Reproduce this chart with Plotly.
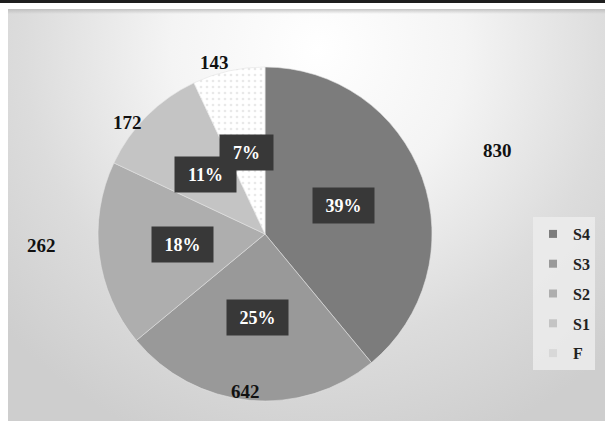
import math, base64
import plotly.graph_objects as go

# ---- data ----
labels = ["S4", "S3", "S2", "S1", "F"]
percents = [39, 25, 18, 11, 7]
counts = [830, 642, 262, 172, 143]

# ---- styles ----
colors = ["#7c7c7c", "#999999", "#aeaeae", "#c4c4c4", "#d8d8d8"]
count_radius = [1.48, 0.95, 1.34, 1.06, 1.07]   # label distance (x pie radius)
count_nudge = [0, 1.5, 4.3, -5.8, -3.7]          # label angle nudge (deg)
W, H = 605, 421
CX, CY, R = 265, 234, 167                          # pie centre / radius in px
SERIF = "Liberation Serif, Times New Roman, serif"

def px(x):
    return x / W

def py(y):
    return 1 - y / H

fig = go.Figure()
fig.add_trace(go.Pie(
    labels=labels, values=percents, sort=False, direction="clockwise", rotation=0,
    textinfo="none", hoverinfo="label+percent", showlegend=False,
    marker=dict(colors=colors, line=dict(color="#e2e2e2", width=0.6),
                pattern=dict(shape=["", "", "", "", "."], fgcolor="#e9e9e9",
                             size=6, solidity=0.15)),
    domain=dict(x=[px(CX - R), px(CX + R)], y=[py(CY + R), py(CY - R)]),
))

# legend entries (one group per category so they can be spaced like the original)
for lab, col in zip(labels, colors):
    fig.add_trace(go.Scatter(
        x=[None], y=[None], mode="markers", name=lab, legendgroup=lab,
        marker=dict(symbol="square", size=8, color=col), showlegend=True,
        hoverinfo="skip"))

annotations = []
total = sum(percents)
cum = 0
for lab, p, c, rf, nd in zip(labels, percents, counts, count_radius, count_nudge):
    mid = (cum + p / 2) / total * 2 * math.pi
    cum += p
    # percent box
    bx = CX + 0.5 * R * math.sin(mid)
    by = CY - 0.5 * R * math.cos(mid)
    txt = f"{p}%"
    annotations.append(dict(
        x=px(bx), y=py(by), xref="paper", yref="paper", showarrow=False,
        text=f"<b>{txt}</b>", font=dict(family=SERIF, size=18, color="white"),
        bgcolor="#383838", width=35 + 8 * len(txt), height=33,
        xanchor="center", yanchor="middle"))
    # count label
    a = mid + math.radians(nd)
    lx = CX + rf * R * math.sin(a)
    ly = CY - rf * R * math.cos(a)
    annotations.append(dict(
        x=px(lx), y=py(ly), xref="paper", yref="paper", showarrow=False,
        text=f"<b>{c}</b>", font=dict(family=SERIF, size=19, color="#111111"),
        xanchor="center", yanchor="middle"))

# background gradient panel (SVG data URI)
svg = ('<svg xmlns="http://www.w3.org/2000/svg" width="597" height="412" viewBox="0 0 597 412">'
       '<defs><radialGradient id="g" gradientUnits="userSpaceOnUse" cx="310" cy="40" r="420">'
       '<stop offset="0" stop-color="#ffffff"/>'
       '<stop offset="0.35" stop-color="#f4f4f4"/>'
       '<stop offset="0.7" stop-color="#dcdcdc"/>'
       '<stop offset="1" stop-color="#cecece"/>'
       '</radialGradient>'
       '<linearGradient id="t" x1="0" y1="0" x2="0" y2="1">'
       '<stop offset="0" stop-color="#b8b8b8" stop-opacity="0.8"/>'
       '<stop offset="1" stop-color="#b8b8b8" stop-opacity="0"/>'
       '</linearGradient></defs>'
       '<rect width="597" height="412" fill="url(#g)"/>'
       '<rect width="597" height="5" fill="url(#t)"/>'
       '</svg>')
src = "data:image/svg+xml;base64," + base64.b64encode(svg.encode()).decode()

fig.update_layout(
    width=W, height=H, margin=dict(l=0, r=0, t=0, b=0),
    paper_bgcolor="white", plot_bgcolor="rgba(0,0,0,0)",
    xaxis=dict(visible=False), yaxis=dict(visible=False),
    images=[dict(source=src, xref="paper", yref="paper", x=px(8), y=py(9),
                 sizex=px(597), sizey=(412 / H), sizing="stretch",
                 xanchor="left", yanchor="top", layer="below")],
    shapes=[dict(type="rect", xref="paper", yref="paper", x0=0, x1=1,
                 y0=py(3), y1=1, fillcolor="#1e1e1e", line=dict(width=0))],
    annotations=annotations,
    showlegend=True,
    legend=dict(x=px(533), y=py(217), xanchor="left", yanchor="top",
                bgcolor="rgba(236,236,236,0.85)", borderwidth=0,
                font=dict(family=SERIF, size=16, color="#222222", weight="bold"),
                itemwidth=30, tracegroupgap=6),
)

fig.write_html("out.html")
